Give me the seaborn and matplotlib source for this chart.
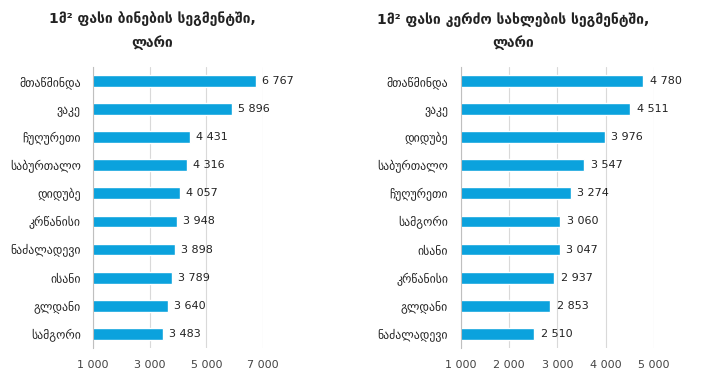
import matplotlib
matplotlib.use("Agg")
import seaborn as sns
import pandas as pd
from matplotlib import pyplot as plt
from matplotlib.ticker import FuncFormatter

# apartments segment, GEL per m2
flats_districts = ["მთაწმინდა", "ვაკე", "ჩუღურეთი", "საბურთალო", "დიდუბე",
                   "კრწანისი", "ნაძალადევი", "ისანი", "გლდანი", "სამგორი"]
flats_prices = [6767, 5896, 4431, 4316, 4057, 3948, 3898, 3789, 3640, 3483]

# private houses segment, GEL per m2
houses_districts = ["მთაწმინდა", "ვაკე", "დიდუბე", "საბურთალო", "ჩუღურეთი",
                    "სამგორი", "ისანი", "კრწანისი", "გლდანი", "ნაძალადევი"]
houses_prices = [4780, 4511, 3976, 3547, 3274, 3060, 3047, 2937, 2853, 2510]

flats_ticks = [1000, 3000, 5000, 7000]
houses_ticks = [1000, 2000, 3000, 4000, 5000]

titles = ["1მ² ფასი ბინების სეგმენტში,\nლარი",
          "1მ² ფასი კერძო სახლების სეგმენტში,\nლარი"]

sns.set_style("white")
plt.rcParams["font.family"] = ["DejaVu Sans"]

BLUE = "#0ba2dd"


def fmt(v):
    return "{:,}".format(int(v)).replace(",", " ")


def draw(ax, districts, prices, ticks):
    df = pd.DataFrame({"district": districts, "price": prices})
    sns.barplot(data=df, y="district", x="price", orient="h", color=BLUE,
                width=0.42, saturation=1, ax=ax)
    ax.set_xlim(ticks[0], ticks[-1])
    ax.set_xticks(ticks)
    ax.xaxis.set_major_formatter(FuncFormatter(lambda v, p: fmt(v)))
    ax.set_xlabel("")
    ax.set_ylabel("")
    ax.grid(axis="x", color="#d9d9d9", linewidth=0.8)
    ax.set_axisbelow(True)
    for s in ["top", "right", "bottom"]:
        ax.spines[s].set_visible(False)
    ax.spines["left"].set_color("#bfbfbf")
    ax.tick_params(axis="y", length=0, pad=9, labelsize=8.5, labelcolor="#222222")
    ax.tick_params(axis="x", length=0, pad=9, labelsize=8, labelcolor="#444444")
    span = ticks[-1] - ticks[0]
    for i, v in enumerate(prices):
        ax.text(v + span * 0.035, i, fmt(v), va="center", ha="left",
                fontsize=8, color="#222222")


fig = plt.figure(figsize=(7.11, 3.91), dpi=100)
ax1 = fig.add_axes([0.131, 0.110, 0.239, 0.719])
ax2 = fig.add_axes([0.648, 0.110, 0.272, 0.719])
draw(ax1, flats_districts, flats_prices, flats_ticks)
draw(ax2, houses_districts, houses_prices, houses_ticks)

fig.text(0.214, 0.97, titles[0], ha="center", va="top", fontsize=10,
         fontweight="bold", color="#222222", linespacing=1.75)
fig.text(0.722, 0.97, titles[1], ha="center", va="top", fontsize=10,
         fontweight="bold", color="#222222", linespacing=1.75)

plt.savefig("out.png", dpi=100)
